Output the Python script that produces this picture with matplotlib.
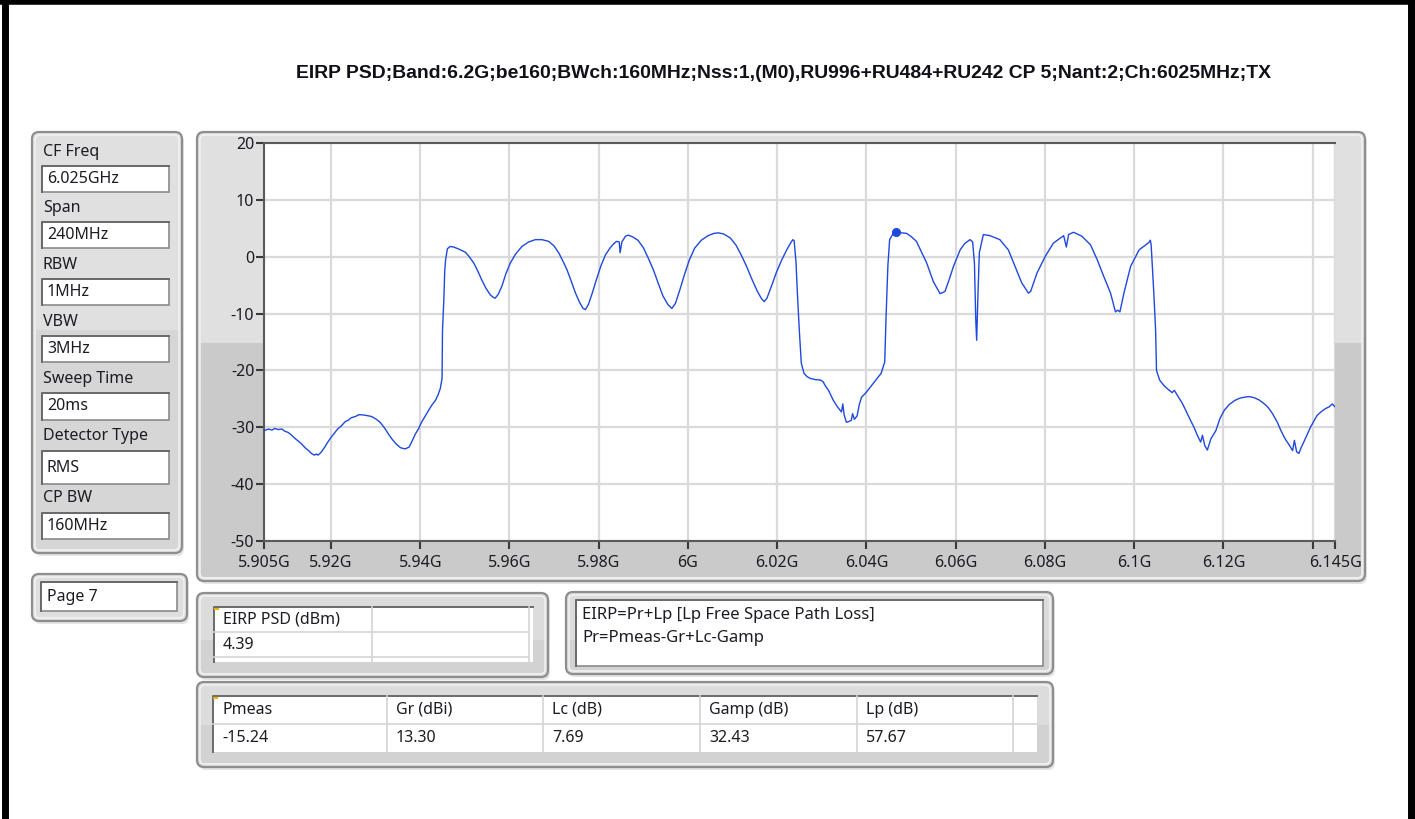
import matplotlib
matplotlib.use('Agg')
import matplotlib.pyplot as plt
from matplotlib.patches import FancyBboxPatch, Rectangle

W, H = 1415, 819

title = "EIRP PSD;Band:6.2G;be160;BWch:160MHz;Nss:1,(M0),RU996+RU484+RU242 CP 5;Nant:2;Ch:6025MHz;TX"

# spectrum trace (GHz, dBm)
freq_ghz = [
    5.9050, 5.9060, 5.9068, 5.9074, 5.9082, 5.9090, 5.9097, 5.9104, 5.9112, 5.9120,
    5.9128, 5.9134, 5.9142, 5.9150, 5.9156, 5.9163, 5.9168, 5.9171, 5.9178, 5.9186,
    5.9193, 5.9201, 5.9208, 5.9215, 5.9224, 5.9232, 5.9238, 5.9246, 5.9255, 5.9262,
    5.9269, 5.9278, 5.9285, 5.9291, 5.9300, 5.9310, 5.9320, 5.9329, 5.9338, 5.9347,
    5.9356, 5.9366, 5.9375, 5.9382, 5.9389, 5.9396, 5.9403, 5.9410, 5.9419, 5.9427,
    5.9434, 5.9440, 5.9445, 5.9449, 5.9450, 5.9453, 5.9455, 5.9457, 5.9461, 5.9467,
    5.9475, 5.9485, 5.9493, 5.9501, 5.9510, 5.9520, 5.9529, 5.9538, 5.9547, 5.9557,
    5.9563, 5.9568, 5.9575, 5.9583, 5.9592, 5.9602, 5.9614, 5.9628, 5.9643, 5.9658,
    5.9673, 5.9688, 5.9700, 5.9711, 5.9720, 5.9729, 5.9738, 5.9748, 5.9757, 5.9765,
    5.9770, 5.9777, 5.9786, 5.9795, 5.9805, 5.9815, 5.9826, 5.9834, 5.9840, 5.9846,
    5.9848, 5.9852, 5.9860, 5.9866, 5.9876, 5.9888, 5.9900, 5.9912, 5.9923, 5.9934,
    5.9944, 5.9955, 5.9964, 5.9972, 5.9982, 5.9992, 6.0003, 6.0015, 6.0030, 6.0045,
    6.0058, 6.0068, 6.0080, 6.0095, 6.0108, 6.0120, 6.0132, 6.0143, 6.0155, 6.0165,
    6.0171, 6.0177, 6.0188, 6.0198, 6.0210, 6.0222, 6.0230, 6.0235, 6.0238, 6.0242,
    6.0246, 6.0250, 6.0254, 6.0260, 6.0267, 6.0274, 6.0285, 6.0297, 6.0303, 6.0307,
    6.0315, 6.0326, 6.0335, 6.0344, 6.0347, 6.0350, 6.0355, 6.0360, 6.0366, 6.0369,
    6.0373, 6.0379, 6.0384, 6.0389, 6.0398, 6.0406, 6.0415, 6.0424, 6.0433, 6.0441,
    6.0444, 6.0448, 6.0452, 6.0460, 6.0467, 6.0478, 6.0490, 6.0501, 6.0512, 6.0523,
    6.0535, 6.0550, 6.0565, 6.0571, 6.0576, 6.0586, 6.0595, 6.0610, 6.0620, 6.0632,
    6.0638, 6.0642, 6.0645, 6.0647, 6.0650, 6.0653, 6.0662, 6.0677, 6.0699, 6.0718,
    6.0733, 6.0748, 6.0763, 6.0768, 6.0782, 6.0801, 6.0819, 6.0842, 6.0848, 6.0853,
    6.0864, 6.0883, 6.0902, 6.0917, 6.0932, 6.0947, 6.0958, 6.0963, 6.0968, 6.0977,
    6.0992, 6.1011, 6.1033, 6.1036, 6.1038, 6.1044, 6.1048, 6.1050, 6.1057, 6.1066,
    6.1074, 6.1085, 6.1090, 6.1097, 6.1108, 6.1119, 6.1127, 6.1134, 6.1142, 6.1149,
    6.1153, 6.1158, 6.1164, 6.1168, 6.1172, 6.1183, 6.1192, 6.1202, 6.1213, 6.1225,
    6.1236, 6.1247, 6.1258, 6.1269, 6.1280, 6.1292, 6.1300, 6.1310, 6.1320, 6.1329,
    6.1338, 6.1348, 6.1355, 6.1359, 6.1364, 6.1369, 6.1374, 6.1380, 6.1388, 6.1395,
    6.1402, 6.1410, 6.1420, 6.1429, 6.1437, 6.1444, 6.1450,
]
psd_dbm = [
    -30.6, -30.3, -30.5, -30.2, -30.4, -30.3, -30.7, -30.9, -31.4, -32.0,
    -32.5, -32.9, -33.6, -34.1, -34.6, -34.9, -34.7, -34.9, -34.4, -33.5,
    -32.6, -31.7, -31.0, -30.3, -29.7, -29.0, -28.8, -28.3, -28.1, -27.8,
    -27.8, -27.9, -28.0, -28.1, -28.5, -29.1, -30.1, -31.2, -32.2, -33.0,
    -33.6, -33.8, -33.5, -32.4, -31.2, -30.3, -29.1, -28.2, -27.0, -26.0,
    -25.3, -24.3, -23.2, -21.4, -12.9, -7.6, -2.5, -0.5, 1.4, 1.8,
    1.7, 1.4, 1.1, 0.8, 0.0, -1.1, -2.5, -4.1, -5.5, -6.7,
    -7.1, -7.3, -6.6, -5.2, -3.0, -1.1, 0.5, 1.8, 2.6, 3.0,
    3.0, 2.7, 1.9, 0.6, -0.8, -2.3, -4.2, -6.4, -8.0, -9.1,
    -9.3, -8.4, -6.3, -4.0, -1.6, 0.3, 1.6, 2.3, 2.7, 2.6,
    0.7, 2.6, 3.6, 3.8, 3.5, 2.9, 1.6, -0.4, -2.4, -4.8,
    -6.9, -8.4, -9.1, -8.2, -5.8, -3.2, -0.6, 1.5, 2.9, 3.7,
    4.1, 4.2, 4.0, 3.3, 2.0, 0.2, -1.8, -3.9, -6.0, -7.4,
    -7.9, -7.3, -5.0, -2.8, -0.6, 1.3, 2.4, 3.0, 2.8, -0.8,
    -7.6, -13.5, -18.7, -20.5, -21.1, -21.4, -21.6, -21.7, -22.0, -22.6,
    -23.5, -25.3, -26.4, -27.3, -25.9, -27.8, -29.1, -29.0, -28.8, -27.6,
    -28.6, -28.0, -26.0, -24.7, -24.0, -23.2, -22.3, -21.4, -20.5, -18.5,
    -10.5, -1.7, 3.0, 4.1, 4.39, 4.2, 4.1, 3.5, 2.7, 0.9,
    -1.1, -4.4, -6.5, -6.3, -6.1, -3.9, -1.7, 1.2, 2.3, 3.0,
    2.6, -1.1, -11.1, -14.7, -6.4, 0.7, 3.9, 3.7, 3.0, 1.2,
    -1.7, -4.6, -6.4, -6.1, -2.9, 0.1, 2.4, 3.7, 1.7, 3.9,
    4.3, 3.6, 2.1, -0.5, -3.5, -6.4, -9.7, -9.4, -9.7, -6.4,
    -1.7, 1.2, 2.5, 2.9, 2.1, -6.4, -12.9, -20.0, -21.7, -22.6,
    -23.2, -23.9, -23.5, -24.4, -25.8, -27.6, -28.9, -30.0, -31.5, -32.6,
    -31.4, -33.2, -34.0, -33.0, -32.0, -30.6, -28.5, -27.0, -26.0, -25.3,
    -24.9, -24.7, -24.6, -24.8, -25.2, -25.9, -26.5, -27.6, -29.0, -30.6,
    -32.0, -33.2, -34.1, -32.3, -34.3, -34.6, -33.6, -32.6, -31.2, -30.0,
    -29.0, -27.9, -27.2, -26.7, -26.4, -25.9, -26.4,
]

marker_freq = 6.0467
marker_psd = 4.39

x_ticks = [5.905, 5.92, 5.94, 5.96, 5.98, 6.0, 6.02, 6.04, 6.06, 6.08, 6.1, 6.12, 6.14, 6.145]
x_tick_labels = ['5.905G', '5.92G', '5.94G', '5.96G', '5.98G', '6G', '6.02G', '6.04G',
                 '6.06G', '6.08G', '6.1G', '6.12G', '', '6.145G']
y_ticks = [20, 10, 0, -10, -20, -30, -40, -50]

settings_labels = ['CF Freq', 'Span', 'RBW', 'VBW', 'Sweep Time', 'Detector Type', 'CP BW']
settings_values = ['6.025GHz', '240MHz', '1MHz', '3MHz', '20ms', 'RMS', '160MHz']
page_label = 'Page 7'
eirp_header = 'EIRP PSD (dBm)'
eirp_value = '4.39'
formula_lines = ['EIRP=Pr+Lp [Lp Free Space Path Loss]', 'Pr=Pmeas-Gr+Lc-Gamp']
budget_headers = ['Pmeas', 'Gr (dBi)', 'Lc (dB)', 'Gamp (dB)', 'Lp (dB)']
budget_values = ['-15.24', '13.30', '7.69', '32.43', '57.67']

FONT = ['Noto Sans', 'DejaVu Sans']
TXT = '#1c1c24'
FS = 11.5
plt.rcParams['font.family'] = FONT

fig = plt.figure(figsize=(W / 100, H / 100), dpi=100)
fig.patch.set_facecolor('white')

bg = fig.add_axes([0, 0, 1, 1])
bg.set_xlim(0, W)
bg.set_ylim(H, 0)
bg.axis('off')


def panel(x0, y0, x1, y1, fc='#d9d9d9', split=None, fc2='#cbcbcb'):
    w, h = x1 - x0, y1 - y0
    bg.add_patch(FancyBboxPatch((x0 + 2, y0 + 3), w, h, boxstyle='round,pad=0,rounding_size=7',
                                fc='#e4e4e4', ec='none'))
    bg.add_patch(FancyBboxPatch((x0, y0), w, h, boxstyle='round,pad=0,rounding_size=7',
                                fc=fc, ec='#8e8e8e', lw=1.6))
    if split is not None:
        bg.add_patch(Rectangle((x0 + 3, split), w - 6, y1 - split - 4, fc=fc2, ec='none'))
    bg.add_patch(FancyBboxPatch((x0 + 3, y0 + 3), w - 6, h - 6, boxstyle='round,pad=0,rounding_size=5',
                                fc='none', ec='#f4f4f4', lw=1.0))


def field(x0, y0, x1, y1):
    bg.add_patch(Rectangle((x0, y0), x1 - x0, y1 - y0, fc='white', ec='#8a8a8a', lw=1.2))
    bg.plot([x0, x0, x1], [y1, y0, y0], color='#6a6a6a', lw=1.4)


# outer frame
bg.plot([4.5, 4.5], [0, H], color='black', lw=5)
bg.plot([1411, 1411], [0, H], color='black', lw=5)
bg.plot([0, W], [2, 2], color='black', lw=4)

# title, scaled to the width it has in the screenshot
t = bg.text(784, 73, title, ha='center', va='center', fontsize=12, fontweight='bold',
            color='#101018', family=['Liberation Sans', 'DejaVu Sans'])
fig.canvas.draw()
tw = t.get_window_extent(fig.canvas.get_renderer()).width
t.set_fontsize(12 * 976 / tw)

# settings panel
panel(32, 132, 182, 553, fc='#e0e0e0', split=330, fc2='#d6d6d6')
label_y = [152, 208, 265, 322, 379, 436, 498]
boxes = [(166, 192), (222, 248), (279, 305), (336, 362), (393, 420), (451, 484), (513, 539)]
for lab, val, ly, (b0, b1) in zip(settings_labels, settings_values, label_y, boxes):
    bg.text(43, ly, lab, ha='left', va='center', fontsize=FS, color=TXT)
    field(42, b0, 169, b1)
    bg.text(47, (b0 + b1) / 2, val, ha='left', va='center', fontsize=FS, color=TXT)

# page panel
panel(32, 574, 187, 621, fc='#dedede')
field(41, 582, 177, 611)
bg.text(47, 597, page_label, ha='left', va='center', fontsize=FS, color=TXT)

# graph panel
panel(197, 132, 1365, 581, fc='#e0e0e0', split=343, fc2='#cacaca')

# EIRP PSD table
panel(197, 593, 548, 677, fc='#dcdcdc', split=640, fc2='#d2d2d2')
bg.add_patch(Rectangle((214, 607), 319, 55, fc='white', ec='none'))
bg.plot([214, 214, 533], [662, 607, 607], color='#6a6a6a', lw=1.4)
for yy in [632, 657]:
    bg.plot([214, 529], [yy, yy], color='#d4d4d4', lw=1.2)
for xx in [372, 529]:
    bg.plot([xx, xx], [607, 662], color='#d4d4d4', lw=1.2)
bg.plot([215, 218], [608.5, 608.5], color='#f0b000', lw=1.5)
bg.text(223, 620, eirp_header, ha='left', va='center', fontsize=FS, color=TXT)
bg.text(223, 645, eirp_value, ha='left', va='center', fontsize=FS, color=TXT)

# formula panel
panel(566, 592, 1053, 674, fc='#dcdcdc', split=640, fc2='#d2d2d2')
field(576, 600, 1043, 666)
for i, line in enumerate(formula_lines):
    bg.text(582, 615 + i * 23, line, ha='left', va='center', fontsize=12, color=TXT)

# link budget table
panel(197, 682, 1053, 767, fc='#dcdcdc', split=725, fc2='#d2d2d2')
bg.add_patch(Rectangle((213, 696), 824, 56, fc='white', ec='none'))
bg.plot([213, 213, 1037], [752, 696, 696], color='#6a6a6a', lw=1.4)
bg.plot([213, 1037], [724, 724], color='#d4d4d4', lw=1.2)
col_x = [213, 387, 543, 700, 857, 1013]
for xx in col_x[1:]:
    bg.plot([xx, xx], [696, 752], color='#d4d4d4', lw=1.2)
bg.plot([214, 217], [697.5, 697.5], color='#f0b000', lw=1.5)
for xx, hd, val in zip(col_x, budget_headers, budget_values):
    bg.text(xx + 9, 710, hd, ha='left', va='center', fontsize=FS, color=TXT)
    bg.text(xx + 9, 738, val, ha='left', va='center', fontsize=FS, color=TXT)

# the spectrum plot itself
x0, y0, x1, y1 = 264, 143, 1335, 541
ax = fig.add_axes([x0 / W, 1 - y1 / H, (x1 - x0) / W, (y1 - y0) / H])
ax.set_facecolor('white')
ax.plot(freq_ghz, psd_dbm, color='#1f48dc', lw=1.0, zorder=3)
ax.plot([marker_freq], [marker_psd], 'o', color='#1f48dc', ms=5.5, zorder=4)
ax.set_xlim(5.905, 6.145)
ax.set_ylim(-50, 20)
ax.set_xticks(x_ticks)
ax.set_xticklabels(x_tick_labels)
ax.set_yticks(y_ticks)
ax.set_yticklabels([str(v) for v in y_ticks])
ax.grid(True, color='#dadada', lw=1.6, zorder=0)
ax.set_axisbelow(True)
ax.tick_params(axis='both', direction='out', length=6, width=1.5, color='#3a3a3a',
               labelsize=FS, labelcolor=TXT)
ax.tick_params(axis='y', pad=1)
ax.tick_params(axis='x', pad=4)
for side in ['left', 'bottom', 'top']:
    ax.spines[side].set_color('#5a5a5a')
    ax.spines[side].set_linewidth(1.5)
ax.spines['right'].set_visible(False)

fig.savefig('out.png', dpi=100, facecolor='white')
